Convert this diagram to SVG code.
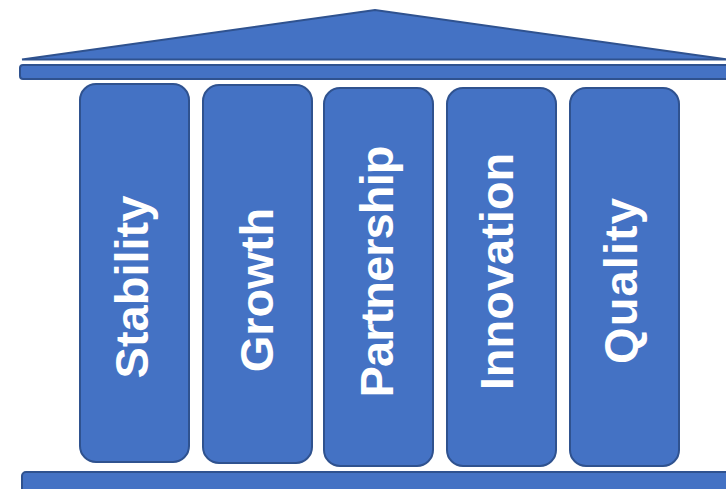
<svg xmlns="http://www.w3.org/2000/svg" width="726" height="489" viewBox="0 0 726 489">
<style>
.shape{fill:#4472C4;stroke:#2F528F;stroke-width:2;}
.lbl{fill:#FFFFFF;font-family:"Liberation Sans",Arial,sans-serif;font-weight:bold;font-size:47px;text-anchor:middle;}
</style>
<rect width="726" height="489" fill="#FFFFFF"/>
<g id="roof">
<polygon class="shape" points="22,59.5 375,10 728,59.5" stroke-linejoin="miter"/>
</g>
<g id="architrave">
<rect class="shape" x="20" y="65" width="720" height="14" rx="3"/>
</g>
<g id="col-stability">
<rect class="shape" x="80" y="84" width="109" height="378" rx="16"/>
<text class="lbl" transform="translate(148,287) rotate(-90)">Stability</text>
</g>
<g id="col-growth">
<rect class="shape" x="203" y="85" width="109" height="378" rx="16"/>
<text class="lbl" transform="translate(273,290) rotate(-90)">Growth</text>
</g>
<g id="col-partnership">
<rect class="shape" x="324" y="88" width="109" height="378" rx="16"/>
<text class="lbl" transform="translate(393,271.5) rotate(-90)" textLength="252">Partnership</text>
</g>
<g id="col-innovation">
<rect class="shape" x="447" y="88" width="109" height="378" rx="16"/>
<text class="lbl" transform="translate(513,271.5) rotate(-90)">Innovation</text>
</g>
<g id="col-quality">
<rect class="shape" x="570" y="88" width="109" height="378" rx="16"/>
<text class="lbl" transform="translate(637,281) rotate(-90)" textLength="166">Quality</text>
</g>
<g id="base">
<rect class="shape" x="22" y="472" width="720" height="40" rx="4"/>
</g>
<g id="connectors"/>
</svg>
